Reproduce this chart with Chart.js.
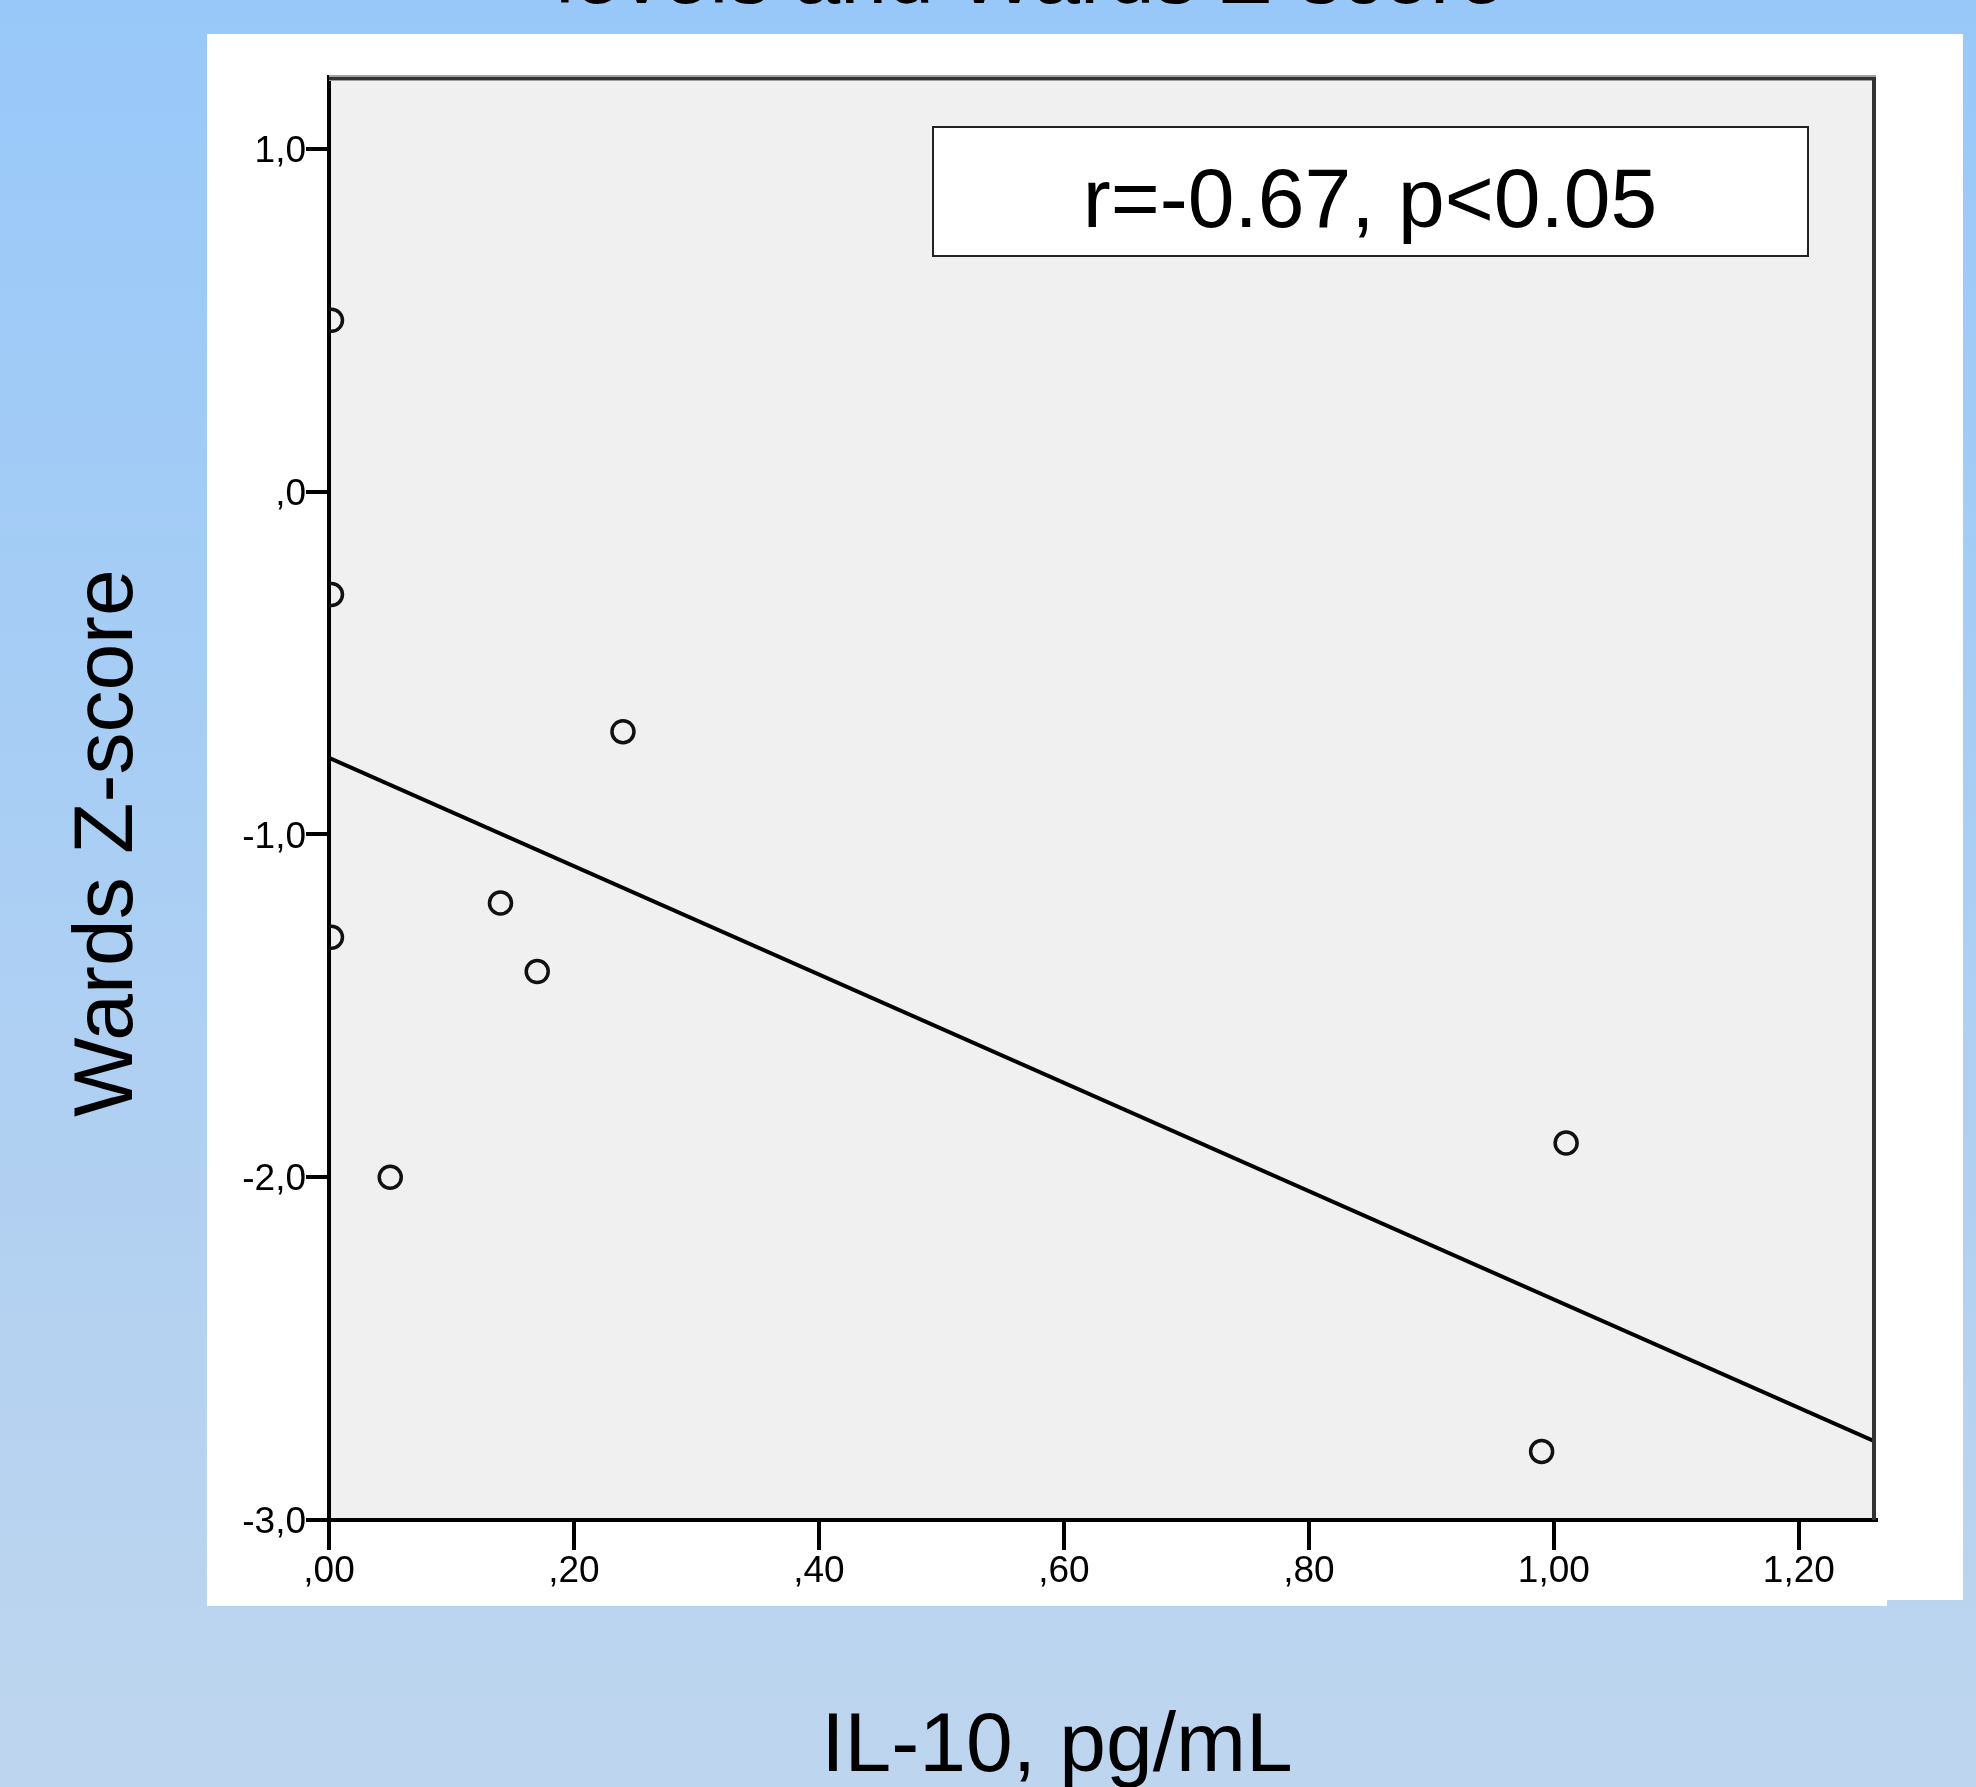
<!DOCTYPE html>
<html>
<head>
<meta charset="utf-8">
<title>IL-10 and Wards Z-score</title>
<script src="https://cdn.jsdelivr.net/npm/chart.js@4.4.0/dist/chart.umd.min.js"></script>
<style>
    html, body { margin: 0; padding: 0; background: #bcd4ee; }
    canvas { display: block; }
</style>
</head>
<body>
<canvas id="scatterCanvas" width="1976" height="1787"></canvas>
<script>
// values
const il10Values = [0.002, 0.002, 0.002, 0.05, 0.14, 0.17, 0.24, 0.99, 1.01];
const zScoreValues = [0.5, -0.3, -1.3, -2.0, -1.2, -1.4, -0.7, -2.8, -1.9];

// fitted line, end points at the plot edges
const fitLineX = [0, 1.263];
const fitLineY = [-0.776, -2.772];

const xTickLabels = [',00', ',20', ',40', ',60', ',80', '1,00', '1,20'];
const yTickLabels = ['-3,0', '-2,0', '-1,0', ',0', '1,0'];

const titleText = 'levels and Wards Z-score';
const xTitle = 'IL-10, pg/mL';
const yTitle = 'Wards Z-score';
const statsText = 'r=-0.67, p<0.05';

const fontFamily = '"Liberation Sans", Arial, sans-serif';
Chart.defaults.font.family = fontFamily;

const backdrop = {
    id: 'backdrop',
    beforeDraw(chart) {
        const { ctx, width, height, chartArea } = chart;
        ctx.save();

        const grad = ctx.createLinearGradient(0, 0, 0, height);
        grad.addColorStop(0, '#98c8f9');
        grad.addColorStop(1, '#bed5ee');
        ctx.fillStyle = grad;
        ctx.fillRect(0, 0, width, height);

        // white slide panel
        ctx.fillStyle = '#ffffff';
        ctx.fillRect(207, 34, 1963 - 207, 1600 - 34);
        ctx.fillRect(207, 1600, 1887 - 207, 6);

        // slide title, mostly cut off above the picture
        ctx.fillStyle = '#000';
        ctx.font = '84px ' + fontFamily;
        ctx.textAlign = 'center';
        ctx.textBaseline = 'alphabetic';
        ctx.fillText(titleText, 1030, 3);

        ctx.fillStyle = '#f0f0f0';
        ctx.fillRect(chartArea.left, chartArea.top, chartArea.right - chartArea.left, chartArea.bottom - chartArea.top);
        ctx.restore();
    },
    afterDraw(chart) {
        const { ctx, chartArea } = chart;
        ctx.save();

        // top frame: grey band, right frame: dark line
        ctx.strokeStyle = '#a0a0a0';
        ctx.lineWidth = 6;
        ctx.beginPath();
        ctx.moveTo(chartArea.left, chartArea.top + 1);
        ctx.lineTo(chartArea.right, chartArea.top + 1);
        ctx.stroke();
        ctx.strokeStyle = '#333';
        ctx.lineWidth = 3;
        ctx.beginPath();
        ctx.moveTo(chartArea.left, chartArea.top + 1.5);
        ctx.lineTo(chartArea.right - 2, chartArea.top + 1.5);
        ctx.stroke();
        ctx.lineWidth = 4;
        ctx.beginPath();
        ctx.moveTo(chartArea.right - 2, chartArea.top);
        ctx.lineTo(chartArea.right - 2, chartArea.bottom);
        ctx.stroke();

        // stats box
        ctx.fillStyle = '#fff';
        ctx.fillRect(933, 127, 875, 129);
        ctx.strokeStyle = '#222';
        ctx.lineWidth = 2;
        ctx.strokeRect(933, 127, 875, 129);

        ctx.fillStyle = '#000';
        ctx.font = '84px ' + fontFamily;
        ctx.textAlign = 'center';
        ctx.textBaseline = 'alphabetic';
        ctx.fillText(statsText, 1370, 227);

        ctx.fillText(xTitle, 1057, 1771);

        ctx.translate(132, 843);
        ctx.rotate(-Math.PI / 2);
        ctx.fillText(yTitle, 0, 0);
        ctx.restore();
    }
};

const ctx = document.getElementById('scatterCanvas').getContext('2d');

new Chart(ctx, {
    type: 'scatter',
    data: {
        datasets: [
            {
                label: 'Patients',
                data: il10Values.map((x, i) => ({ x, y: zScoreValues[i] })),
                pointStyle: 'circle',
                pointRadius: 11,
                pointBorderWidth: 3.5,
                borderColor: '#111',
                backgroundColor: 'rgba(0,0,0,0)'
            },
            {
                label: 'Fit',
                data: fitLineX.map((x, i) => ({ x, y: fitLineY[i] })),
                showLine: true,
                pointRadius: 0,
                borderWidth: 4,
                borderColor: '#000'
            }
        ]
    },
    options: {
        responsive: false,
        animation: false,
        devicePixelRatio: 1,
        layout: { padding: { left: 0, top: 77, right: 100, bottom: 0 } },
        plugins: {
            legend: { display: false },
            tooltip: { enabled: false }
        },
        scales: {
            x: {
                type: 'linear',
                position: 'bottom',
                min: 0,
                max: 1.263,
                ticks: {
                    stepSize: 0.2,
                    includeBounds: false,
                    autoSkip: false,
                    maxRotation: 0,
                    color: '#000',
                    padding: 0,
                    font: { size: 37 },
                    callback: (value, index) => xTickLabels[index]
                },
                grid: { drawOnChartArea: false, drawTicks: true, tickLength: 30, tickWidth: 4, lineWidth: 4, color: '#000' },
                border: { display: true, color: '#000', width: 4 },
                afterFit: scale => { scale.height = 1787 - 1520; }
            },
            y: {
                type: 'linear',
                position: 'left',
                min: -3,
                max: 1.21,
                ticks: {
                    stepSize: 1,
                    includeBounds: false,
                    autoSkip: false,
                    color: '#000',
                    padding: 0,
                    labelOffset: 3,
                    font: { size: 37 },
                    callback: (value, index) => yTickLabels[index]
                },
                grid: { drawOnChartArea: false, drawTicks: true, tickLength: 23, tickWidth: 4, lineWidth: 4, color: '#000' },
                border: { display: true, color: '#000', width: 4 },
                afterFit: scale => { scale.width = 329; }
            }
        }
    },
    plugins: [backdrop]
});
</script>
</body>
</html>
